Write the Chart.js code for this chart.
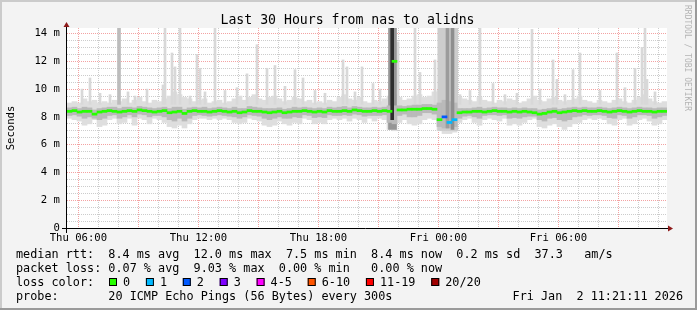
<!DOCTYPE html>
<html>
<head>
<meta charset="utf-8">
<script src="https://cdn.jsdelivr.net/npm/chart.js@4.4.1/dist/chart.umd.min.js"></script>
<style>
  html, body { margin: 0; padding: 0; background: #f3f3f3; }
  canvas { display: block; }
</style>
</head>
<body>
<canvas id="smoke" width="697" height="310"></canvas>
<script>
// hours since Thu 00:00; one smoke sample every 15 minutes
const startHour = 5.43;
const endHour = 35.43;
const sampleStep = 0.25;

const median = [
  8.4, 8.45, 8.35, 8.4, 8.4, 8.2, 8.35, 8.4, 8.45, 8.4,
  8.35, 8.4, 8.45, 8.4, 8.5, 8.45, 8.4, 8.35, 8.4, 8.45,
  8.3, 8.35, 8.4, 8.25, 8.4, 8.45, 8.4, 8.4, 8.35, 8.4,
  8.45, 8.4, 8.35, 8.4, 8.3, 8.35, 8.45, 8.4, 8.4, 8.35,
  8.3, 8.35, 8.4, 8.3, 8.35, 8.4, 8.4, 8.45, 8.4, 8.35,
  8.4, 8.35, 8.45, 8.4, 8.4, 8.45, 8.4, 8.5, 8.45, 8.4,
  8.4, 8.45, 8.4, 8.45, 8.4, 12.0, 8.5, 8.5, 8.55, 8.55,
  8.55, 8.6, 8.6, 8.55, 7.8, 8.0, 7.6, 7.8, 8.3, 8.35,
  8.35, 8.4, 8.4, 8.35, 8.4, 8.45, 8.4, 8.4, 8.35, 8.4,
  8.35, 8.4, 8.35, 8.3, 8.2, 8.25, 8.35, 8.4, 8.3, 8.35,
  8.4, 8.45, 8.4, 8.45, 8.4, 8.4, 8.45, 8.4, 8.35, 8.4,
  8.45, 8.4, 8.35, 8.4, 8.45, 8.4, 8.4, 8.35, 8.4, 8.4
];

// index into lossLabels / lossColors
const loss = [
  0, 0, 0, 0, 0, 0, 0, 0, 0, 0,
  0, 0, 0, 0, 0, 0, 0, 0, 0, 0,
  0, 0, 0, 0, 0, 0, 0, 0, 0, 0,
  0, 0, 0, 0, 0, 0, 0, 0, 0, 0,
  0, 0, 0, 0, 0, 0, 0, 0, 0, 0,
  0, 0, 0, 0, 0, 0, 0, 0, 0, 0,
  0, 0, 0, 0, 0, 0, 0, 0, 0, 0,
  0, 0, 0, 0, 0, 2, 1, 1, 0, 0,
  0, 0, 0, 0, 0, 0, 0, 0, 0, 0,
  0, 0, 0, 0, 0, 0, 0, 0, 0, 0,
  0, 0, 0, 0, 0, 0, 0, 0, 0, 0,
  0, 0, 0, 0, 0, 0, 0, 0, 0, 0
];

const smokeLo = [
  7.9, 7.8, 7.7, 7.4, 7.5, 7.8, 7.3, 7.4, 7.8, 7.9,
  7.5, 7.6, 7.9, 7.4, 7.9, 7.8, 7.5, 7.9, 7.8, 7.6,
  7.3, 7.2, 7.4, 7.2, 7.5, 7.8, 7.9, 7.9, 7.8, 7.9,
  7.8, 7.9, 7.8, 7.6, 7.5, 7.6, 7.9, 7.8, 7.7, 7.4,
  7.3, 7.4, 7.7, 7.5, 7.4, 7.6, 7.5, 7.9, 7.8, 7.5,
  7.6, 7.5, 7.8, 7.9, 7.8, 7.9, 7.7, 7.9, 7.8, 7.6,
  7.9, 7.7, 7.9, 7.8, 7.1, 7.0, 7.6, 7.8, 7.5, 7.4,
  7.5, 7.8, 7.9, 7.8, 7.0, 6.8, 6.8, 6.9, 7.6, 7.8,
  7.9, 7.6, 7.4, 7.8, 7.9, 7.8, 7.7, 7.9, 7.4, 7.5,
  7.4, 7.6, 7.8, 7.9, 7.3, 7.2, 7.4, 7.5, 7.3, 7.1,
  7.3, 7.5, 7.6, 7.8, 7.9, 7.8, 7.9, 7.8, 7.5, 7.4,
  7.8, 7.9, 7.4, 7.5, 7.8, 7.9, 7.7, 7.4, 7.5, 7.8
];

const smokeHi = [
  9.0, 9.1, 9.0, 9.3, 9.1, 9.2, 9.0, 9.1, 9.0, 9.2,
  9.1, 9.3, 9.0, 9.2, 9.4, 9.1, 9.0, 9.2, 9.1, 9.3,
  9.5, 9.8, 9.6, 9.4, 9.3, 9.1, 9.2, 9.3, 9.0, 9.1,
  9.2, 9.0, 9.1, 9.3, 9.5, 9.2, 9.4, 9.6, 9.3, 9.2,
  9.4, 9.5, 9.3, 9.1, 9.2, 9.4, 9.3, 9.1, 9.2, 9.0,
  9.1, 9.0, 9.2, 9.1, 9.4, 9.6, 9.3, 9.2, 9.4, 9.1,
  9.0, 9.2, 9.1, 9.3, 9.5, 9.6, 9.4, 9.2, 9.3, 9.5,
  9.6, 9.4, 9.5, 9.8, 9.9, 9.9, 9.9, 9.9, 9.4, 9.3,
  9.2, 9.1, 9.4, 9.2, 9.1, 9.0, 9.2, 9.1, 9.3, 9.2,
  9.0, 9.1, 9.3, 9.5, 9.2, 9.1, 9.3, 9.4, 9.2, 9.1,
  9.2, 9.3, 9.5, 9.2, 9.1, 9.0, 9.2, 9.1, 9.0, 9.2,
  9.3, 9.1, 9.0, 9.2, 9.4, 9.6, 9.3, 9.1, 9.0, 9.1
];

const coreLo = [
  8.1, 8.15, 8.05, 7.9, 8.0, 7.9, 7.8, 7.9, 8.1, 8.15,
  7.9, 8.0, 8.15, 8.0, 8.2, 8.15, 8.0, 8.1, 8.1, 8.0,
  7.8, 7.7, 7.9, 7.7, 7.9, 8.1, 8.15, 8.1, 8.05, 8.1,
  8.15, 8.1, 8.05, 8.0, 7.9, 8.0, 8.15, 8.1, 8.05, 7.9,
  7.8, 7.9, 8.0, 7.9, 7.9, 8.0, 7.95, 8.15, 8.1, 7.95,
  8.0, 7.95, 8.15, 8.1, 8.1, 8.15, 8.1, 8.2, 8.15, 8.05,
  8.1, 8.1, 8.1, 8.15, 7.6, 7.5, 8.1, 8.2, 8.0, 8.0,
  8.1, 8.3, 8.3, 8.2, 7.3, 7.2, 7.2, 7.3, 7.9, 8.05,
  8.1, 8.0, 7.9, 8.1, 8.15, 8.15, 8.1, 8.15, 7.9, 7.95,
  7.9, 8.0, 8.05, 8.05, 7.8, 7.7, 7.9, 7.95, 7.8, 7.7,
  7.8, 8.0, 8.05, 8.15, 8.1, 8.15, 8.15, 8.1, 7.95, 7.9,
  8.15, 8.1, 7.9, 8.0, 8.15, 8.15, 8.1, 7.9, 8.0, 8.1
];

const coreHi = [
  8.65, 8.7, 8.6, 8.7, 8.65, 8.5, 8.6, 8.65, 8.7, 8.7,
  8.6, 8.7, 8.7, 8.65, 8.75, 8.7, 8.65, 8.6, 8.65, 8.7,
  8.6, 8.7, 8.7, 8.55, 8.65, 8.7, 8.65, 8.7, 8.6, 8.65,
  8.7, 8.65, 8.6, 8.7, 8.6, 8.6, 8.75, 8.7, 8.65, 8.6,
  8.6, 8.6, 8.65, 8.55, 8.6, 8.7, 8.65, 8.7, 8.65, 8.6,
  8.65, 8.6, 8.7, 8.65, 8.7, 8.75, 8.65, 8.75, 8.7, 8.65,
  8.65, 8.7, 8.65, 8.7, 8.8, 8.8, 8.8, 8.75, 8.8, 8.85,
  8.85, 8.9, 8.9, 8.85, 9.0, 9.2, 9.1, 9.0, 8.6, 8.6,
  8.6, 8.65, 8.7, 8.6, 8.65, 8.7, 8.65, 8.65, 8.6, 8.65,
  8.6, 8.65, 8.6, 8.6, 8.5, 8.55, 8.6, 8.65, 8.55, 8.6,
  8.65, 8.7, 8.65, 8.7, 8.65, 8.65, 8.7, 8.65, 8.6, 8.65,
  8.7, 8.65, 8.6, 8.65, 8.7, 8.65, 8.65, 8.6, 8.65, 8.65
];

// thin single-ping spikes above the smoke
const spikeHours = [
  6.18, 6.58, 7.08, 7.58, 8.48, 8.83, 9.43, 10.23, 10.33, 10.68,
  10.83, 11.08, 11.58, 11.93, 12.08, 12.33, 12.83, 13.33, 13.93, 14.43,
  14.93, 15.43, 15.83, 16.33, 16.83, 17.23, 17.83, 18.33, 19.23, 19.43,
  19.83, 20.18, 20.73, 21.08, 21.98, 22.83, 23.08, 23.83, 25.08, 25.58,
  26.08, 26.73, 27.33, 27.93, 28.68, 29.08, 29.73, 29.93, 30.33, 30.73,
  31.08, 32.08, 32.93, 33.33, 33.83, 34.18, 34.33, 34.43, 34.83
];
const spikeTops = [
  10.0, 10.8, 9.7, 9.6, 9.8, 9.5, 10.0, 10.3, 14.4, 12.6,
  11.6, 14.4, 9.5, 12.5, 11.5, 9.8, 14.4, 9.9, 10.1, 11.1,
  13.2, 11.5, 11.7, 10.2, 11.4, 10.8, 9.9, 9.7, 12.1, 11.6,
  9.8, 11.6, 10.4, 10.0, 13.4, 14.4, 11.2, 12.1, 9.6, 9.9,
  14.4, 10.4, 9.6, 9.7, 14.3, 10.0, 12.1, 10.7, 9.6, 11.4,
  12.6, 9.9, 12.6, 10.1, 11.5, 13.0, 14.4, 10.7, 9.8
];

// dense columns where many pings were slow
const blockHours = [24.47];
const blockLows = [7.0];
const blockTops = [14.4];
const columnHours = [21.705];
const columnLows = [7.1];
const columnTops = [14.4];
const darkHours = [8.03, 21.69, 24.455, 24.705];
const darkLows = [8.9, 7.8, 7.2, 7.1];
const darkTops = [14.4, 14.4, 14.4, 14.4];

const yLabelValues = [0, 2, 4, 6, 8, 10, 12, 14];
const yLabels = ['0', '2 m', '4 m', '6 m', '8 m', '10 m', '12 m', '14 m'];
const xLabelHours = [6, 12, 18, 24, 30];
const xLabels = ['Thu 06:00', 'Thu 12:00', 'Thu 18:00', 'Fri 00:00', 'Fri 06:00'];

const lossLabels = ['0', '1', '2', '3', '4-5', '6-10', '11-19', '20/20'];
const lossColors = ['#26ff00', '#00b8ff', '#0059ff', '#7e00ff', '#ff00ff', '#ff5500', '#ff0000', '#a10000'];

const titleText = 'Last 30 Hours from nas to alidns';
const legendLines = [
  'median rtt:  8.4 ms avg  12.0 ms max  7.5 ms min  8.4 ms now  0.2 ms sd  37.3   am/s',
  'packet loss: 0.07 % avg  9.03 % max  0.00 % min   0.00 % now'
];
const probeText = 'probe:       20 ICMP Echo Pings (56 Bytes) every 300s';
const stampText = 'Fri Jan  2 11:21:11 2026';

const MONO = '"DejaVu Sans Mono", monospace';
const GRID = '#cccccc';
const MGRID = '#f3a2a2';
const ARROW = '#8e1a1a';

const sampleHour = i => startHour + sampleStep * (i + 0.5);
const band = (lo, hi) => lo.map((v, i) => ({ x: sampleHour(i), y: [v, hi[i]] }));
const marks = (hours, lows, tops) => hours.map((h, i) => ({ x: h, y: [lows[i], tops[i]] }));

const yGridValues = [];
for (let v = 0; v <= 14; v += 0.5) yGridValues.push(v);
const xGridHours = [];
for (let h = Math.ceil(startHour); h <= endHour; h++) xGridHours.push(h);

const frame = {
  id: 'frame',
  beforeDraw(chart) {
    const { ctx, chartArea: a, width, height } = chart;
    ctx.save();
    ctx.fillStyle = '#f3f3f3';
    ctx.fillRect(0, 0, width, height);
    ctx.fillStyle = '#cbcbcb';
    ctx.fillRect(0, 0, width, 2);
    ctx.fillRect(0, 0, 2, height);
    ctx.fillStyle = '#9a9a9a';
    ctx.fillRect(0, height - 2, width, 2);
    ctx.fillRect(width - 2, 0, 2, height);
    ctx.fillStyle = '#ffffff';
    ctx.fillRect(a.left, a.top, a.right - a.left, a.bottom - a.top);
    ctx.restore();
  }
};

const axesAndText = {
  id: 'axesAndText',
  afterDraw(chart) {
    const { ctx, chartArea: a } = chart;
    ctx.save();

    // axes with arrows
    ctx.strokeStyle = '#000000';
    ctx.lineWidth = 1;
    ctx.beginPath();
    ctx.moveTo(a.left - 5, a.bottom + 0.5);
    ctx.lineTo(a.right + 2, a.bottom + 0.5);
    ctx.moveTo(a.left - 0.5, a.bottom + 5);
    ctx.lineTo(a.left - 0.5, a.top - 1);
    ctx.stroke();
    ctx.fillStyle = ARROW;
    ctx.beginPath();
    ctx.moveTo(a.right + 1, a.bottom - 2.5);
    ctx.lineTo(a.right + 6, a.bottom + 0.5);
    ctx.lineTo(a.right + 1, a.bottom + 3.5);
    ctx.closePath();
    ctx.fill();
    ctx.beginPath();
    ctx.moveTo(a.left - 3.5, a.top - 1);
    ctx.lineTo(a.left - 0.5, a.top - 6);
    ctx.lineTo(a.left + 2.5, a.top - 1);
    ctx.closePath();
    ctx.fill();

    // title
    ctx.fillStyle = '#000000';
    ctx.textBaseline = 'alphabetic';
    ctx.textAlign = 'center';
    ctx.font = '13.2px ' + MONO;
    ctx.fillText(titleText, 347.5, 24);

    // vertical axis title
    ctx.save();
    ctx.translate(14, (a.top + a.bottom) / 2);
    ctx.rotate(-Math.PI / 2);
    ctx.font = '10.6px ' + MONO;
    ctx.fillText('Seconds', 0, 0);
    ctx.restore();

    // watermark
    ctx.save();
    ctx.translate(685, 5);
    ctx.rotate(Math.PI / 2);
    ctx.textAlign = 'left';
    ctx.fillStyle = '#b4b4b4';
    ctx.font = '8px ' + MONO;
    ctx.fillText('RRDTOOL / TOBI OETIKER', 0, 0);
    ctx.restore();

    // legend
    ctx.textAlign = 'left';
    ctx.font = '11.8px ' + MONO;
    ctx.fillText(legendLines[0], 16, 258);
    ctx.fillText(legendLines[1], 16, 272);
    ctx.fillText('loss color:', 16, 286);
    let bx = 109;
    lossLabels.forEach((lab, i) => {
      ctx.fillStyle = lossColors[i];
      ctx.fillRect(bx, 278, 8, 8);
      ctx.strokeStyle = '#000000';
      ctx.strokeRect(bx + 0.5, 278.5, 7, 7);
      ctx.fillStyle = '#000000';
      ctx.fillText(lab, bx + 14, 286);
      bx += 14 + ctx.measureText(lab).width + 15.8;
    });
    ctx.fillText(probeText, 16, 300);
    ctx.textAlign = 'right';
    ctx.fillText(stampText, 683, 300);
    ctx.restore();
  }
};

const barBase = { type: 'bar', grouped: false, borderWidth: 0 };

new Chart(document.getElementById('smoke'), {
  type: 'bar',
  data: {
    datasets: [
      Object.assign({}, barBase, {
        label: 'median',
        order: 0,
        barThickness: 5,
        data: median.map((m, i) => ({ x: sampleHour(i), y: [m - 0.075, m + 0.075] })),
        backgroundColor: loss.map(l => lossColors[l])
      }),
      Object.assign({}, barBase, {
        label: 'dark',
        order: 1,
        barThickness: 3,
        data: marks(darkHours, darkLows, darkTops),
        backgroundColor: ['#bcbcbc', '#2e2e2e', '#9c9c9c', '#8e8e8e']
      }),
      Object.assign({}, barBase, {
        label: 'core',
        order: 2,
        barThickness: 5,
        data: band(coreLo, coreHi),
        backgroundColor: '#bababa'
      }),
      Object.assign({}, barBase, {
        label: 'column',
        order: 3,
        barThickness: 8,
        data: marks(columnHours, columnLows, columnTops),
        backgroundColor: '#969696'
      }),
      Object.assign({}, barBase, {
        label: 'block',
        order: 4,
        barThickness: 20,
        data: marks(blockHours, blockLows, blockTops),
        backgroundColor: '#cdcdcd'
      }),
      Object.assign({}, barBase, {
        label: 'spikes',
        order: 5,
        barThickness: 2,
        data: spikeHours.map((h, i) => ({ x: h, y: [8.9, spikeTops[i]] })),
        backgroundColor: '#d8d8d8'
      }),
      Object.assign({}, barBase, {
        label: 'smoke',
        order: 6,
        barThickness: 5,
        data: band(smokeLo, smokeHi),
        backgroundColor: '#dedede'
      })
    ]
  },
  options: {
    responsive: false,
    animation: false,
    devicePixelRatio: 1,
    layout: { padding: { left: 0, top: 28, right: 30, bottom: 0 } },
    plugins: { legend: { display: false }, title: { display: false }, tooltip: { enabled: false } },
    scales: {
      x: {
        type: 'linear',
        min: startHour,
        max: endHour,
        offset: false,
        afterFit: s => { s.height = 82; },
        afterBuildTicks: s => { s.ticks = xGridHours.map(v => ({ value: v })); },
        grid: {
          offset: false,
          drawTicks: false,
          color: c => (c.tick && c.tick.value % 3 === 0 ? MGRID : GRID)
        },
        border: { display: false, dash: [1, 1] },
        ticks: {
          autoSkip: false,
          maxRotation: 0,
          padding: 4,
          color: '#000000',
          font: { family: MONO, size: 10.6 },
          callback: v => {
            const k = xLabelHours.indexOf(v);
            return k >= 0 ? xLabels[k] : '';
          }
        }
      },
      y: {
        min: 0,
        max: 14.4,
        afterFit: s => { s.width = 67; },
        afterBuildTicks: s => { s.ticks = yGridValues.map(v => ({ value: v })); },
        grid: {
          drawTicks: false,
          color: c => {
            if (!c.tick || c.tick.value === 0) return 'rgba(0,0,0,0)';
            return c.tick.value % 2 === 0 ? MGRID : GRID;
          }
        },
        border: { display: false, dash: [1, 1] },
        ticks: {
          autoSkip: false,
          padding: 7,
          color: '#000000',
          font: { family: MONO, size: 10.6 },
          callback: v => {
            const k = yLabelValues.indexOf(v);
            return k >= 0 ? yLabels[k] : '';
          }
        }
      }
    }
  },
  plugins: [frame, axesAndText]
});
</script>
</body>
</html>
